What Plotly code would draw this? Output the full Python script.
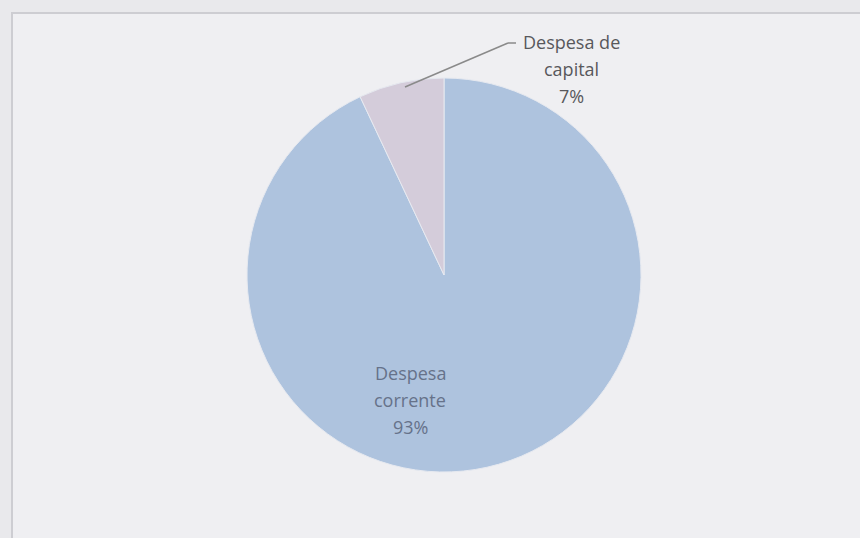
import plotly.graph_objects as go

# Data
categories = ["Despesa corrente", "Despesa de capital"]
label_lines = [["Despesa", "corrente"], ["Despesa de", "capital"]]
values = [93, 7]
colors = ["#aec3de", "#d4ccda"]

W, H = 860, 538
total = sum(values)
pcts = [f"{round(v / total * 100)}%" for v in values]

cx, cy, r = 444, 275, 197

fig = go.Figure()
fig.add_trace(go.Pie(
    labels=categories,
    values=values,
    sort=False,
    direction="clockwise",
    rotation=0,
    textinfo="none",
    hoverinfo="label+percent",
    marker=dict(colors=colors, line=dict(color="#e6e9f0", width=1)),
    domain=dict(x=[(cx - r) / W, (cx + r) / W],
                y=[(H - cy - r) / H, (H - cy + r) / H]),
    showlegend=False,
))

def px(x):
    return x / W

def py(y):
    return 1 - y / H

shapes = [
    dict(type="rect", xref="paper", yref="paper",
         x0=px(12), x1=px(880), y0=py(560), y1=py(13),
         fillcolor="#efeff2", line=dict(color="#cdcdd2", width=2), layer="below"),
    dict(type="line", xref="paper", yref="paper",
         x0=px(516), y0=py(43), x1=px(508), y1=py(43),
         line=dict(color="#8a8a8a", width=1.5)),
    dict(type="line", xref="paper", yref="paper",
         x0=px(508), y0=py(43), x1=px(405), y1=py(87),
         line=dict(color="#8a8a8a", width=1.5)),
]

annotations = []
# capital label (outside)
cap_lines = label_lines[1] + [pcts[1]]
for i, t in enumerate(cap_lines):
    annotations.append(dict(text=t, xref="paper", yref="paper",
                            x=px(571), y=py(42 + i * 27), showarrow=False,
                            xanchor="center", yanchor="middle",
                            font=dict(family="Open Sans, sans-serif", size=18, color="#58585c")))
# corrente label (inside)
cor_lines = label_lines[0] + [pcts[0]]
for i, t in enumerate(cor_lines):
    annotations.append(dict(text=t, xref="paper", yref="paper",
                            x=px(410), y=py(373 + i * 27), showarrow=False,
                            xanchor="center", yanchor="middle",
                            font=dict(family="Open Sans, sans-serif", size=18, color="#66728a")))

fig.update_layout(
    width=W, height=H,
    margin=dict(l=0, r=0, t=0, b=0),
    paper_bgcolor="#e9e9ec",
    plot_bgcolor="#e9e9ec",
    shapes=shapes,
    annotations=annotations,
)

fig.write_html("out.html", config={"displayModeBar": False},
               post_script="document.body.style.margin='0';document.body.style.overflow='hidden';")
